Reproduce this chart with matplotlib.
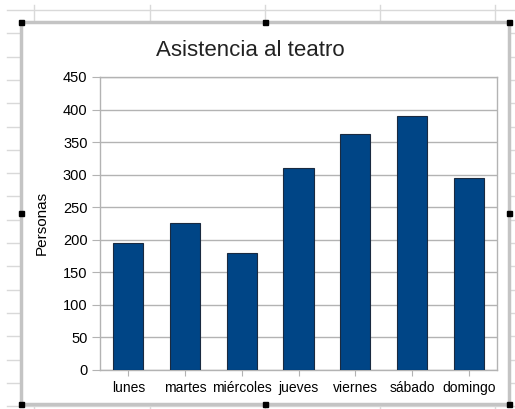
import matplotlib
matplotlib.use('Agg')
import matplotlib.pyplot as plt
from matplotlib.patches import Rectangle

plt.rcParams['font.family'] = ['Liberation Sans', 'DejaVu Sans']

# data
dias = ['lunes', 'martes', 'miércoles', 'jueves', 'viernes', 'sábado', 'domingo']
personas = [195, 225, 180, 310, 362, 390, 294]
y_ticks = [0, 50, 100, 150, 200, 250, 300, 350, 400, 450]

W, H = 515, 409
fig = plt.figure(figsize=(W / 100, H / 100), dpi=100)

# spreadsheet background + chart frame, in pixel coords
bg = fig.add_axes([0, 0, 1, 1], zorder=0)
bg.set_xlim(0, W)
bg.set_ylim(H, 0)
bg.axis('off')
grid_c = '#d9d9d9'
for y in [10 + 23.3 * k for k in range(18)]:
    bg.plot([7, W], [y, y], color=grid_c, lw=1)
for x in [34, 150, 265, 380, 495]:
    bg.plot([x, x], [5, H], color=grid_c, lw=1)
bg.add_patch(Rectangle((21, 22), 488, 382, facecolor='white',
                       edgecolor='#c4c4c4', lw=2.5, zorder=3))
for hx in [21, 265, 509]:
    for hy in [22, 213, 404]:
        if hx == 265 and hy == 213:
            continue
        bg.add_patch(Rectangle((hx - 2.5, hy - 2.5), 5, 5, color='black', zorder=4))

fig.text(250 / W, 1 - 56 / H, 'Asistencia al teatro', ha='center', va='baseline',
         fontsize=16, color='#222222')

ax = fig.add_axes([100 / W, 1 - 369.6 / H, 397 / W, 292.6 / H], zorder=1)
x = range(len(dias))
ax.bar(x, personas, width=0.53, color='#004586', edgecolor='#1a2a40', linewidth=0.8,
       zorder=3)
ax.set_xlim(-0.5, len(dias) - 0.5)
ax.set_ylim(0, 450)
ax.set_yticks(y_ticks)
ax.set_xticks(list(x))
ax.set_xticklabels(dias)
ax.set_ylabel('Personas', fontsize=11, labelpad=10)
ax.grid(axis='y', color='#b3b3b3', lw=1, zorder=0)
for s in ax.spines.values():
    s.set_color('#b3b3b3')
    s.set_linewidth(1)
ax.tick_params(axis='y', length=6, color='#b3b3b3', labelsize=10.5, pad=3)
ax.tick_params(axis='x', length=4, color='#b3b3b3', labelsize=10, pad=4)

fig.savefig('out.png', dpi=100)
